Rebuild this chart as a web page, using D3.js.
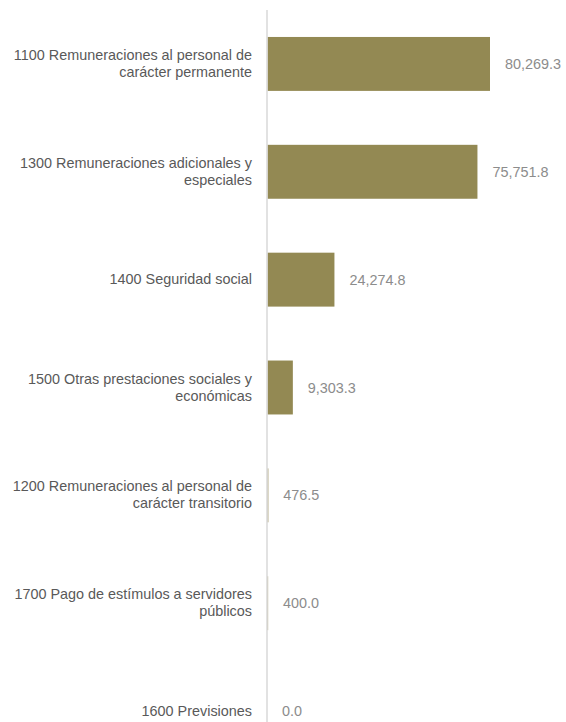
<!DOCTYPE html>
<html><head><meta charset="utf-8">
<script src="https://cdn.jsdelivr.net/npm/d3@7"></script>
<style>body{margin:0;background:#fff}svg{display:block}</style>
</head><body>
<svg id="chart" width="566" height="722"></svg>
<script>
const categories = [
  "1100 Remuneraciones al personal de carácter permanente",
  "1300 Remuneraciones adicionales y especiales",
  "1400 Seguridad social",
  "1500 Otras prestaciones sociales y económicas",
  "1200 Remuneraciones al personal de carácter transitorio",
  "1700 Pago de estímulos a servidores públicos",
  "1600 Previsiones"
];
const values = [80269.3, 75751.8, 24274.8, 9303.3, 476.5, 400.0, 0.0];

const svg = d3.select("#chart");
const x0 = 267;
const x = d3.scaleLinear().domain([0, 80269.3]).range([x0, 490]);
const y = d3.scaleBand().domain(categories).range([10, 765]).paddingInner(0.5).paddingOuter(0.25);
const font = "Arial, 'Liberation Sans', Helvetica, sans-serif";
const fs = 14.4;
const fmt = d3.format(",.1f");

svg.selectAll("rect.bar").data(values).join("rect")
  .attr("class","bar")
  .attr("x", x0 + 0.5)
  .attr("y", (d,i)=>y(categories[i]))
  .attr("width", d=>Math.max(0, x(d)-x0-0.5))
  .attr("height", y.bandwidth())
  .attr("fill", "#938953");

svg.append("line").attr("x1", x0).attr("x2", x0).attr("y1", 10).attr("y2", 722)
  .attr("stroke", "#d9d9d9").attr("stroke-width", 1.5);

svg.selectAll("text.val").data(values).join("text")
  .attr("class","val")
  .attr("x", d=>x(d)+15)
  .attr("y", (d,i)=>y(categories[i]) + y.bandwidth()/2)
  .attr("dy","0.35em")
  .attr("font-family", font).attr("font-size", fs).attr("fill", "#8c8c8c")
  .text(d=>fmt(d));

const maxW = 252;
const lab = svg.selectAll("text.cat").data(categories).join("text")
  .attr("class","cat")
  .attr("text-anchor","end")
  .attr("font-family", font).attr("font-size", fs).attr("fill", "#595959");
lab.each(function(c){
  const t = d3.select(this);
  const words = c.split(" ");
  const lines = [];
  let cur = [];
  const probe = t.append("tspan");
  words.forEach(w=>{
    const test = cur.concat([w]).join(" ");
    probe.text(test);
    if (probe.node().getComputedTextLength() > maxW && cur.length) {
      lines.push(cur.join(" ")); cur = [w];
    } else cur.push(w);
  });
  lines.push(cur.join(" "));
  probe.remove();
  const cy = y(c) + y.bandwidth()/2 - 0.5;
  const lh = 17;
  lines.forEach((ln,k)=>{
    t.append("tspan").attr("x", 252)
      .attr("y", cy + (k - (lines.length-1)/2)*lh)
      .attr("dy","0.35em").text(ln);
  });
});
</script>
</body></html>
